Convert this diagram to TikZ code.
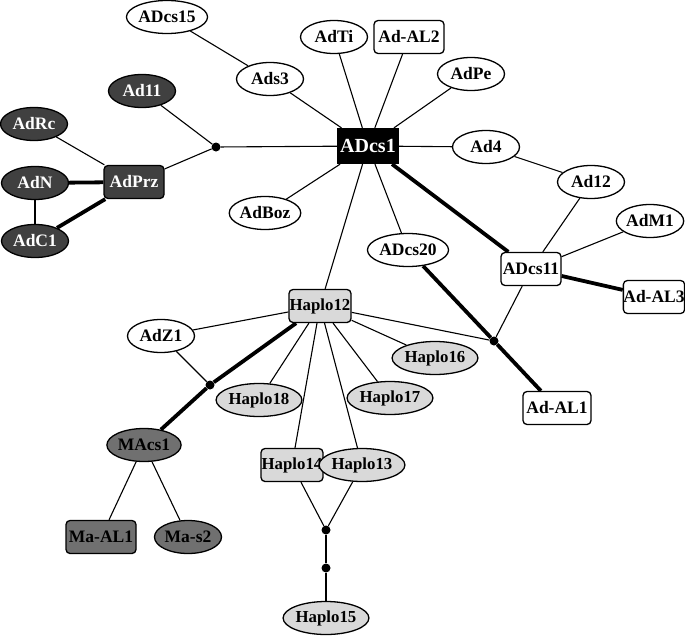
\documentclass[tikz,border=0pt]{standalone}
\usepackage{fontspec}
\setmainfont{Liberation Serif}
\usetikzlibrary{shapes.geometric,backgrounds}
\definecolor{dk}{HTML}{404040}
\definecolor{md}{HTML}{707070}
\definecolor{lt}{HTML}{D9D9D9}
\tikzset{
  base/.style={draw=black, line width=1.3pt, inner sep=0pt, font=\fontsize{17.5}{18}\selectfont\bfseries},
  ell/.style={base, ellipse, minimum width=67pt, minimum height=33pt, fill=white},
  box/.style={base, rectangle, rounded corners=4pt, minimum width=60pt, minimum height=33pt, fill=white},
  dkell/.style={ell, fill=dk, text=white},
  dkbox/.style={box, fill=dk, text=white},
  mdell/.style={ell, fill=md},
  mdbox/.style={box, fill=md},
  hp/.style={font=\fontsize{16.8}{17}\selectfont\bfseries},
  ltell/.style={ell, fill=lt, hp},
  ltbox/.style={box, fill=lt, hp, minimum width=62pt, inner xsep=0.5pt},
  blackbox/.style={box, rounded corners=0pt, fill=black, text=white, minimum height=35pt, font=\fontsize{20}{20}\selectfont\bfseries},
  dot/.style={circle, fill=black, inner sep=0pt, minimum size=9pt},
  ln/.style={line width=1.1pt},
  thk/.style={line width=3.8pt},
}
\begin{document}
\begin{tikzpicture}[x=1pt,y=-1pt]
\useasboundingbox (0,0) rectangle (685,637);
% junctions
\node[dot] (jL) at (216,147) {};
\node[dot] (jR) at (494,341) {};
\node[dot] (jM) at (210,385) {};
\node[dot] (jB1) at (326,530) {};
\node[dot] (jB2) at (326,568) {};
% nodes
\node[ell] (ADcs15) at (167,17) {ADcs15};
\node[ell] (AdTi) at (334,37) {AdTi};
\node[box, minimum width=70pt] (AdAL2) at (409,37) {Ad-AL2};
\node[ell] (Ads3) at (270,79) {Ads3};
\node[ell] (AdPe) at (471,74) {AdPe};
\node[dkell] (Ad11) at (142,91) {Ad11};
\node[dkell] (AdRc) at (34,124) {AdRc};
\node[dkell] (AdN) at (35,183) {AdN};
\node[dkell] (AdC1) at (35,241) {AdC1};
\node[dkbox] (AdPrz) at (134,182) {AdPrz};
\node[blackbox] (ADcs1) at (368,146) {ADcs1};
\node[ell] (Ad4) at (486,147) {Ad4};
\node[ell] (AdBoz) at (265,213) {AdBoz};
\node[ell] (Ad12) at (591,182) {Ad12};
\node[ell] (AdM1) at (650,221) {AdM1};
\node[ell] (ADcs20) at (408,250) {ADcs20};
\node[box] (ADcs11) at (531,269) {ADcs11};
\node[box] (AdAL3) at (654,297) {Ad-AL3};
\node[ltbox] (Haplo12) at (320,306) {Haplo12};
\node[ell] (AdZ1) at (161,336) {AdZ1};
\node[ltell] (Haplo16) at (435,358) {Haplo16};
\node[ltell] (Haplo18) at (259,400) {Haplo18};
\node[ltell] (Haplo17) at (390,398) {Haplo17};
\node[box, minimum width=68pt] (AdAL1) at (557,408) {Ad-AL1};
\node[mdell] (MAcs1) at (144,445) {MAcs1};
\node[ltbox] (Haplo14) at (292,465) {Haplo14};
\node[ltell] (Haplo13) at (362,465) {Haplo13};
\node[mdbox, minimum width=70pt] (MaAL1) at (101,537) {Ma-AL1};
\node[mdell] (Mas2) at (188,537) {Ma-s2};
\node[ltell] (Haplo15) at (326,618) {Haplo15};
% edges
\begin{scope}[on background layer]
\draw[ln] (ADcs15) -- (Ads3);
\draw[ln] (Ads3) -- (ADcs1);
\draw[ln] (AdTi) -- (ADcs1);
\draw[ln] (AdAL2) -- (ADcs1);
\draw[ln] (AdPe) -- (ADcs1);
\draw[ln] (Ad4) -- (ADcs1);
\draw[ln] (Ad4) -- (Ad12);
\draw[ln] (Ad12) -- (ADcs11);
\draw[ln] (AdM1) -- (ADcs11);
\draw[thk] (ADcs11) -- (AdAL3);
\draw[thk] (ADcs1) -- (ADcs11);
\draw[ln] (ADcs1) -- (ADcs20);
\draw[thk] (ADcs20) -- (jR);
\draw[thk] (jR) -- (AdAL1);
\draw[ln] (ADcs11) -- (jR);
\draw[ln] (Haplo12) -- (jR);
\draw[ln] (ADcs1) -- (AdBoz);
\draw[ln] (ADcs1) -- (Haplo12);
\draw[ln] (ADcs1) -- (jL);
\draw[ln] (jL) -- (Ad11);
\draw[ln] (jL) -- (AdPrz);
\draw[ln] (AdPrz) -- (AdRc);
\draw[thk] (AdPrz) -- (AdN);
\draw[thk] (AdPrz) -- (AdC1);
\draw[ln] (AdN) -- (AdC1);
\draw[ln] (Haplo12) -- (AdZ1);
\draw[ln] (AdZ1) -- (jM);
\draw[thk] (Haplo12) -- (jM);
\draw[thk] (jM) -- (MAcs1);
\draw[ln] (Haplo12) -- (Haplo18);
\draw[ln] (Haplo12) -- (Haplo14);
\draw[ln] (Haplo12) -- (Haplo13);
\draw[ln] (Haplo12) -- (Haplo17);
\draw[ln] (Haplo12) -- (Haplo16);
\draw[ln] (MAcs1) -- (MaAL1);
\draw[ln] (MAcs1) -- (Mas2);
\draw[ln] (Haplo14) -- (jB1);
\draw[ln] (Haplo13) -- (jB1);
\draw[ln] (jB1) -- (jB2);
\draw[ln] (jB2) -- (Haplo15);
\end{scope}
\end{tikzpicture}
\end{document}
